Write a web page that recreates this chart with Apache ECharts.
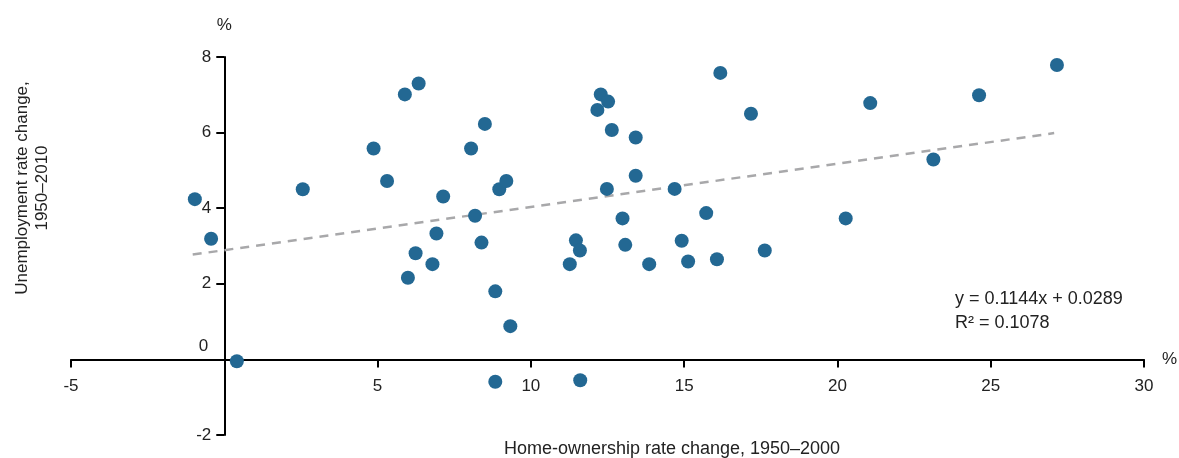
<!DOCTYPE html>
<html>
<head>
<meta charset="utf-8">
<script src="https://cdn.jsdelivr.net/npm/echarts@6/dist/echarts.min.js"></script>
<style>
  html, body { margin: 0; padding: 0; background: #fff; }
  #chart { width: 1179px; height: 458px; }
</style>
</head>
<body>
<div id="chart"></div>
<script>
// Home-ownership rate change 1950–2000 (x, %) vs unemployment rate change 1950–2010 (y, %)
const homeOwnershipChange = [
  -0.96, -0.43, 0.41, 2.56, 4.87, 5.31, 5.89, 6.34, 7.14, 6.92,
  6.24, 6.79, 5.99, 8.05, 8.50, 8.18, 8.39, 8.97, 9.20, 8.84,
  9.33, 8.84, 11.61, 11.27, 11.47, 11.60, 12.28, 12.52, 12.17, 12.64,
  13.42, 13.42, 12.48, 12.99, 13.08, 13.86, 14.69, 14.92, 15.13, 15.72,
  16.07, 16.18, 17.18, 17.63, 20.27, 21.07, 23.13, 24.62, 27.16
];
const unemploymentChange = [
  4.24, 3.19, -0.05, 4.50, 5.58, 4.72, 7.01, 7.30, 4.31, 3.33,
  2.81, 2.52, 2.16, 5.58, 6.23, 3.80, 3.09, 4.50, 4.72, 1.80,
  0.88, -0.59, -0.55, 2.52, 3.15, 2.88, 7.01, 6.82, 6.60, 6.07,
  5.87, 4.86, 4.51, 3.73, 3.03, 2.52, 4.51, 3.14, 2.59, 3.87,
  2.65, 7.58, 6.50, 2.88, 3.73, 6.78, 5.29, 6.99, 7.79
];

// Linear fit (in fractional units): y = slope * x + intercept
const fitSlope = 0.1144;
const fitIntercept = 0.0289;
const fitR2 = 0.1078;
const fitRangeX = [-1.03, 27.07];

const xTicks = { min: -5, max: 30, interval: 5 };
const yTicks = { min: -2, max: 8, interval: 2 };

const points = homeOwnershipChange.map((x, i) => [x, unemploymentChange[i]]);
// Both axes are in percent, so the intercept is scaled by 100
const fitLine = fitRangeX.map(x => [x, fitSlope * x + fitIntercept * 100]);

const FONT = '"Liberation Sans", Arial, Helvetica, sans-serif';
const TEXT = '#222';

const GRID = { left: 71, right: 35, top: 57, bottom: 23 };
const W = 1179, H = 458;
const plotW = W - GRID.left - GRID.right;
const plotH = H - GRID.top - GRID.bottom;
// Shift each axis line inward so the axes cross at the origin
const xAxisOffset = -plotH * (0 - yTicks.min) / (yTicks.max - yTicks.min);
const yAxisOffset = -plotW * (0 - xTicks.min) / (xTicks.max - xTicks.min);

const chart = echarts.init(document.getElementById('chart'));
chart.setOption({
  animation: false,
  backgroundColor: '#fff',
  grid: Object.assign({ containLabel: false, outerBoundsMode: 'none' }, GRID),
  xAxis: {
    type: 'value',
    position: 'bottom',
    offset: xAxisOffset,
    min: xTicks.min, max: xTicks.max, interval: xTicks.interval,
    name: '%',
    nameLocation: 'end',
    nameGap: 18,
    nameTextStyle: { color: TEXT, fontFamily: FONT, fontSize: 17, verticalAlign: 'middle', padding: [16, 0, 0, 0] },
    axisLine: { show: true, onZero: false, lineStyle: { color: '#000', width: 2 } },
    axisTick: { show: true, length: 8, inside: false, lineStyle: { color: '#000', width: 2 } },
    axisLabel: {
      color: TEXT, fontFamily: FONT, fontSize: 17, margin: 18,
      formatter: v => (v === 0 ? '' : String(v))
    },
    splitLine: { show: false }
  },
  yAxis: {
    type: 'value',
    position: 'left',
    offset: yAxisOffset,
    min: yTicks.min, max: yTicks.max, interval: yTicks.interval,
    name: '%',
    nameLocation: 'end',
    nameGap: 23,
    nameTextStyle: { color: TEXT, fontFamily: FONT, fontSize: 17 },
    axisLine: { show: true, onZero: false, lineStyle: { color: '#000', width: 2 } },
    axisTick: { show: true, length: 8, lineStyle: { color: '#000', width: 2 } },
    axisLabel: {
      color: TEXT, fontFamily: FONT, fontSize: 17, margin: 13,
      formatter: v => (v === 0 ? '{zero|0}' : String(v)),
      rich: { zero: { color: TEXT, fontFamily: FONT, fontSize: 17, padding: [0, 3, 27, 0] } }
    },
    splitLine: { show: false }
  },
  series: [
    {
      type: 'line',
      data: fitLine,
      symbol: 'none',
      silent: true,
      z: 1,
      lineStyle: { color: '#a8a8aa', width: 2.5, type: [9, 7] }
    },
    {
      type: 'scatter',
      data: points,
      symbol: 'circle',
      symbolSize: 14,
      z: 3,
      itemStyle: { color: '#236893', opacity: 1 }
    }
  ],
  graphic: [
    {
      type: 'text',
      left: 955, top: 287,
      style: {
        text: 'y = ' + fitSlope.toFixed(4) + 'x + ' + fitIntercept.toFixed(4) + '\nR² = ' + fitR2.toFixed(4),
        fill: TEXT, font: '18px ' + FONT, lineHeight: 24
      }
    },
    {
      type: 'text',
      x: 672, y: 449,
      style: {
        text: 'Home-ownership rate change, 1950–2000',
        fill: TEXT, font: '18px ' + FONT, align: 'center', verticalAlign: 'middle'
      }
    },
    {
      type: 'text',
      x: 32, y: 188,
      rotation: Math.PI / 2,
      style: {
        text: 'Unemployment rate change,\n1950–2010',
        fill: TEXT, font: '17px ' + FONT, align: 'center', verticalAlign: 'middle', lineHeight: 20
      }
    }
  ]
});
</script>
</body>
</html>
